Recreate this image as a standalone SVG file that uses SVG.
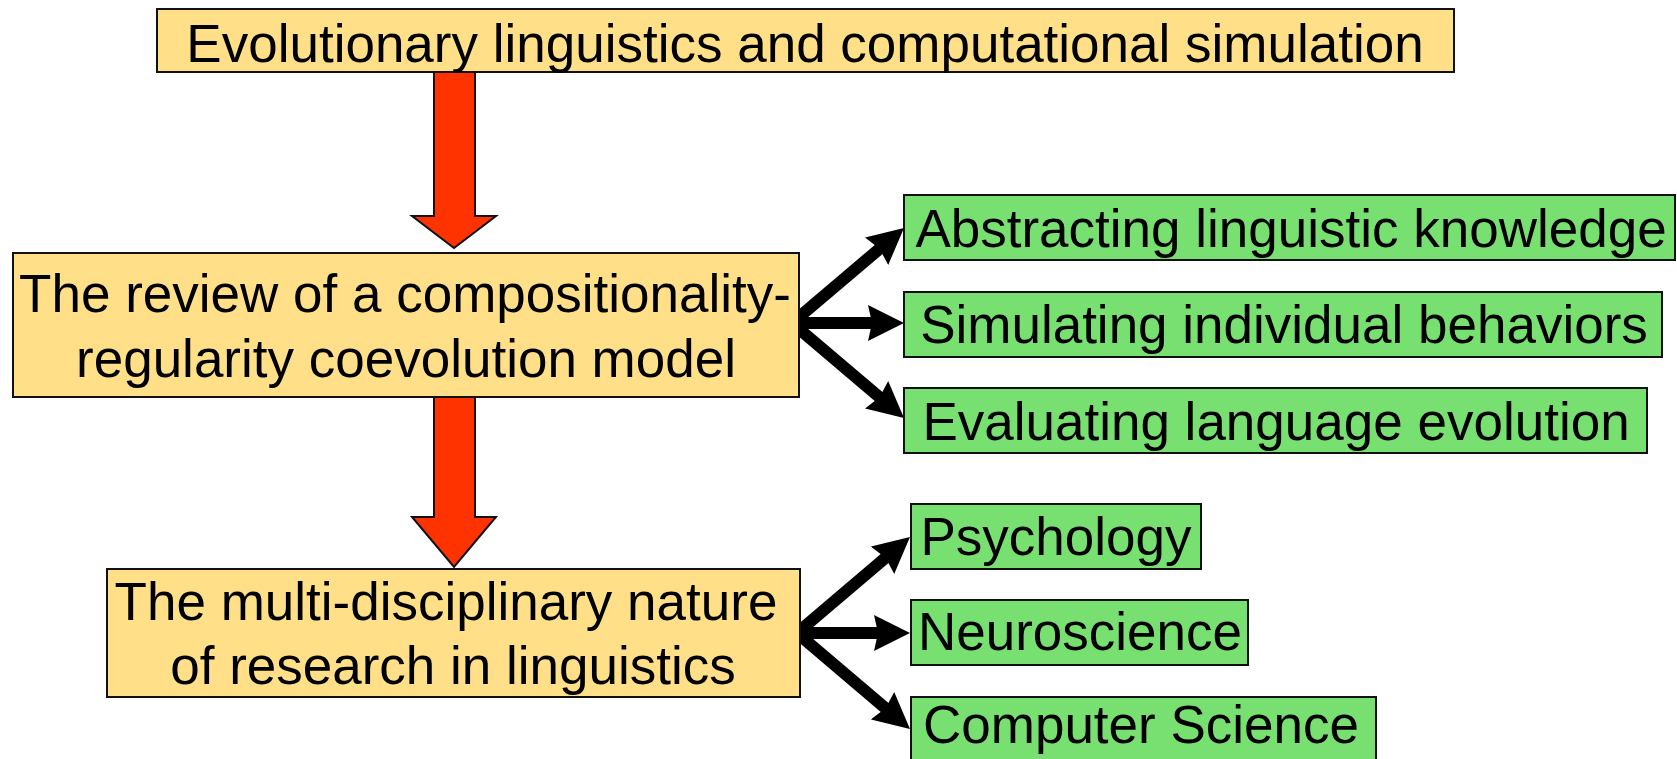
<svg xmlns="http://www.w3.org/2000/svg" width="1677" height="759" viewBox="0 0 1677 759">
<style>
.y{fill:#FFDF88;stroke:#111;stroke-width:2}
.g{fill:#78E070;stroke:#111;stroke-width:2}
.t{font-family:"Liberation Sans",Arial,sans-serif;font-size:53px;fill:#000;text-anchor:middle}
.red{fill:#FF3300;stroke:#111;stroke-width:2;stroke-linejoin:miter}
.bl{stroke:#000;stroke-width:12;fill:none}
</style>
<defs>
<marker id="ah" markerUnits="userSpaceOnUse" viewBox="0 0 36 36" markerWidth="36" markerHeight="36" refX="12" refY="18" orient="auto">
<path d="M0,0 L36,18 L0,36 L4,18 z" fill="#000"/>
</marker>
</defs>
<g id="connectors">
<polygon class="red" points="434,72 475,72 475,216 496,216 454,248 412,216 434,216"/>
<polygon class="red" points="434,397 475,397 475,517 496,517 454,567 412,517 434,517"/>
<line class="bl" x1="792" y1="323" x2="885.7" y2="243.5" marker-end="url(#ah)"/>
<line class="bl" x1="792" y1="323" x2="880" y2="323" marker-end="url(#ah)"/>
<line class="bl" x1="792" y1="323" x2="885.7" y2="402.5" marker-end="url(#ah)"/>
<line class="bl" x1="797" y1="633" x2="891.7" y2="552.5" marker-end="url(#ah)"/>
<line class="bl" x1="797" y1="633" x2="886" y2="633" marker-end="url(#ah)"/>
<line class="bl" x1="797" y1="633" x2="891.7" y2="713.5" marker-end="url(#ah)"/>
</g>
<g id="n-top">
<rect class="y" x="157" y="9" width="1297" height="63"/>
<text class="t" x="805" y="62">Evolutionary linguistics and computational simulation</text>
</g>
<g id="n-review">
<rect class="y" x="13" y="253" width="786" height="144"/>
<text class="t" x="405" y="312">The review of a compositionality-</text>
<text class="t" x="406" y="377">regularity coevolution model</text>
</g>
<g id="n-multi">
<rect class="y" x="107" y="569" width="693" height="128"/>
<text class="t" x="446" y="620">The multi-disciplinary nature</text>
<text class="t" x="453" y="684">of research in linguistics</text>
</g>
<g id="n-abstract">
<rect class="g" x="904" y="195" width="771" height="65"/>
<text class="t" x="1291" y="247">Abstracting linguistic knowledge</text>
</g>
<g id="n-simulate">
<rect class="g" x="904" y="292" width="758" height="65"/>
<text class="t" x="1284" y="343">Simulating individual behaviors</text>
</g>
<g id="n-evaluate">
<rect class="g" x="904" y="388" width="743" height="65"/>
<text class="t" x="1276" y="440">Evaluating language evolution</text>
</g>
<g id="n-psych">
<rect class="g" x="911" y="504" width="290" height="65"/>
<text class="t" x="1056" y="555">Psychology</text>
</g>
<g id="n-neuro">
<rect class="g" x="911" y="600" width="337" height="65"/>
<text class="t" x="1080" y="650">Neuroscience</text>
</g>
<g id="n-cs">
<rect class="g" x="911" y="697" width="465" height="70"/>
<text class="t" x="1141" y="743">Computer Science</text>
</g>
</svg>
